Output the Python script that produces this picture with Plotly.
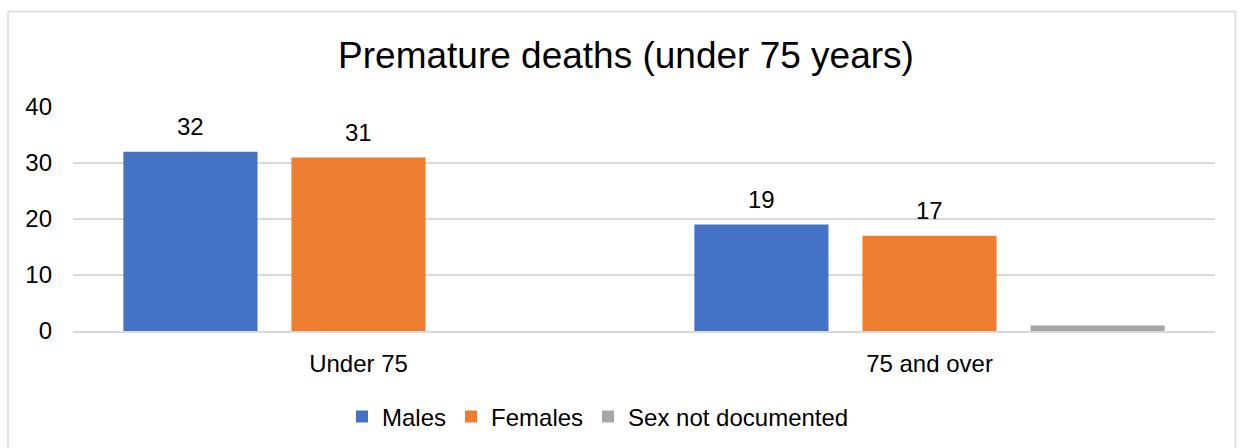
import plotly.graph_objects as go

categories = ["Under 75", "75 and over"]
males = [32, 19]
females = [31, 17]
sex_not_documented = [0, 1]
series_names = ["Males", "Females", "Sex not documented"]
series_colors = ["#4472C4", "#ED7D31", "#A5A5A5"]
labelled = [True, True, False]
title = "Premature deaths (under 75 years)"
y_ticks = [0, 10, 20, 30, 40]

series_values = [males, females, sex_not_documented]

FONT = "Liberation Sans, Arial, sans-serif"
fig = go.Figure()
for name, vals, col in zip(series_names, series_values, series_colors):
    fig.add_trace(go.Bar(name=name, x=categories, y=vals, marker=dict(color=col, line=dict(width=0))))

W, H = 1242, 448
ml, mr, mt, mb = 73, 27, 107, 117
pw = W - ml - mr
cat_w = pw / len(categories)
bargap = 0.117
slot = cat_w * (1 - bargap) / len(series_names)

annotations = []
for i, (vals, show) in enumerate(zip(series_values, labelled)):
    if not show:
        continue
    shift = (i - (len(series_names) - 1) / 2) * slot
    for c, v in zip(categories, vals):
        annotations.append(dict(x=c, y=v, xref="x", yref="y", text=str(v), showarrow=False,
                                xshift=shift, yshift=25, yanchor="middle",
                                font=dict(size=24, color="#000000", family=FONT)))

# chart border
ph = H - mt - mb
x0 = (8 - ml) / pw
x1 = (1235.5 - ml) / pw
y1 = (H - mb - 11.5) / ph
y0 = -1.0

fig.update_layout(
    width=W, height=H,
    margin=dict(l=ml, r=mr, t=mt, b=mb, autoexpand=False),
    paper_bgcolor="white", plot_bgcolor="white",
    font=dict(family=FONT, size=24, color="#000000"),
    title=dict(text=title, x=626 / W, xanchor="center", y=1 - 55 / H, yanchor="middle",
               font=dict(size=37, family=FONT, color="#000000")),
    barmode="group", bargap=bargap, bargroupgap=0.202,
    showlegend=True,
    legend=dict(orientation="h", x=(598 - ml) / pw, xanchor="center", y=(H - mb - 417) / ph, yanchor="middle",
                font=dict(size=24, family=FONT, color="#000000"), itemclick=False),
    annotations=annotations,
    shapes=[dict(type="rect", xref="paper", yref="paper", x0=x0, x1=x1, y0=y0, y1=y1,
                 line=dict(color="#D9D9D9", width=1.5), fillcolor="rgba(0,0,0,0)", layer="below")],
)
fig.update_yaxes(range=[0, 40], tickvals=y_ticks, showgrid=True, gridcolor="#D9D9D9", gridwidth=1.5,
                 zeroline=False, showline=False, ticks="", ticklabelstandoff=20, automargin=False,
                 tickfont=dict(size=24, family=FONT, color="#000000"), fixedrange=True)
fig.update_xaxes(showgrid=False, showline=True, linecolor="#D9D9D9", linewidth=2, ticks="",
                 ticklabelstandoff=10, automargin=False,
                 tickfont=dict(size=24, family=FONT, color="#000000"), fixedrange=True)

fig.write_html("out.html", config={"displayModeBar": False},
               post_script="document.body.style.margin='0';document.body.style.overflow='hidden';")
